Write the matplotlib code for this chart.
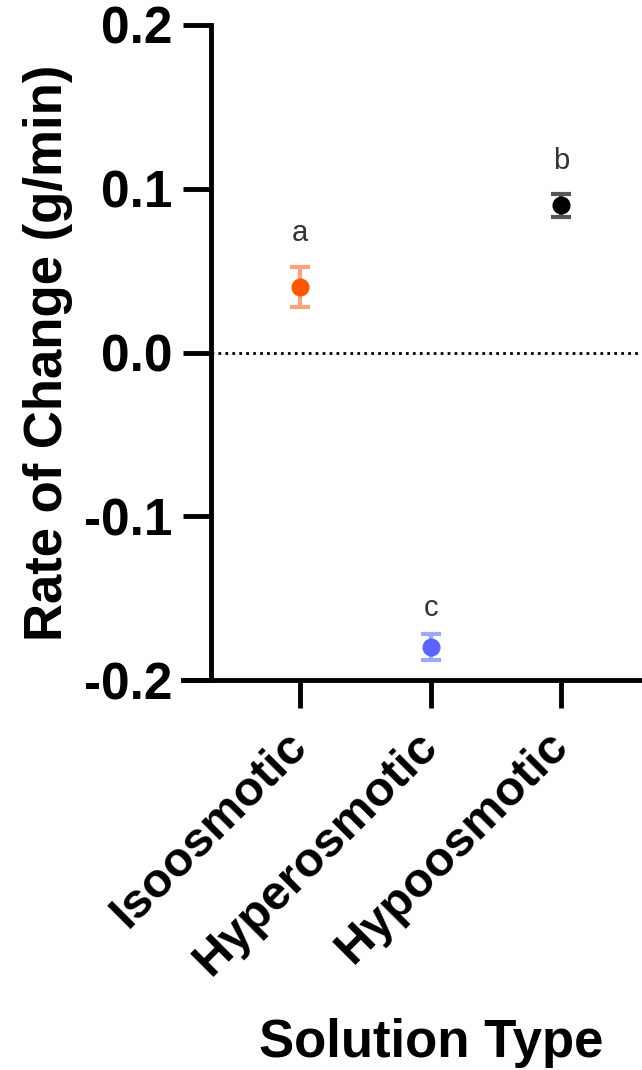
import matplotlib.pyplot as plt
from matplotlib.transforms import ScaledTranslation

plt.rcParams['font.family'] = ['Liberation Sans', 'DejaVu Sans']

categories = ['Isoosmotic', 'Hyperosmotic', 'Hypoosmotic']
means = [0.040, -0.180, 0.090]
errors = [0.012, 0.008, 0.007]
letters = ['a', 'c', 'b']
letter_y = [0.073, -0.156, 0.117]
colors = ['#FF5500', '#5A64FF', '#000000']
err_colors = ['#FFA27A', '#9FA6FF', '#555555']

fig = plt.figure(figsize=(6.42, 10.70), dpi=100)
ax = fig.add_axes([183 / 642, 1 - 680 / 1070, 1 - 183 / 642, (680 - 25) / 1070])

xs = list(range(len(categories)))
for x, m, e, c, ec in zip(xs, means, errors, colors, err_colors):
    ax.errorbar(x, m, yerr=e, fmt='none', ecolor=ec, elinewidth=3, capsize=7, capthick=3, zorder=2)
    ax.plot(x, m, 'o', color=c, markersize=12, zorder=3)

for x, t, ty in zip(xs, letters, letter_y):
    ax.text(x, ty, t, ha='center', va='center', fontsize=21, color='#333333')

ax.axhline(0, xmin=(211 - 183) / 459, xmax=1, color='black', linestyle=(0, (1, 1.5)), linewidth=2)

ax.set_xlim(-0.897, 2.62)
ax.set_ylim(-0.2, 0.2)
ax.set_yticks([-0.2, -0.1, 0.0, 0.1, 0.2])
ax.set_yticklabels(['-0.2', '-0.1', '0.0', '0.1', '0.2'])
ax.set_xticks(xs)
ax.set_xticklabels(categories, rotation=45, ha='right', rotation_mode='anchor')

ax.spines['top'].set_visible(False)
ax.spines['right'].set_visible(False)
ax.spines['left'].set_position(('data', -0.682))
ax.spines['left'].set_linewidth(3.5)
ax.spines['bottom'].set_linewidth(3.5)

ax.tick_params(axis='both', length=20, width=3.5, labelsize=37, pad=8)
ax.tick_params(axis='x', labelsize=35)
shift = ScaledTranslation(-16 / 100, -4 / 100, fig.dpi_scale_trans)
for lab in ax.get_xticklabels():
    lab.set_fontweight('bold')
    lab.set_transform(lab.get_transform() + shift)
for lab in ax.get_yticklabels():
    lab.set_fontweight('bold')

ax.set_ylabel('Rate of Change (g/min)', fontsize=38, fontweight='bold', labelpad=8)
ax.set_xlabel('Solution Type', fontsize=38, fontweight='bold')
ax.xaxis.set_label_coords(0.54, -0.516)

fig.savefig('out.png', dpi=100)
